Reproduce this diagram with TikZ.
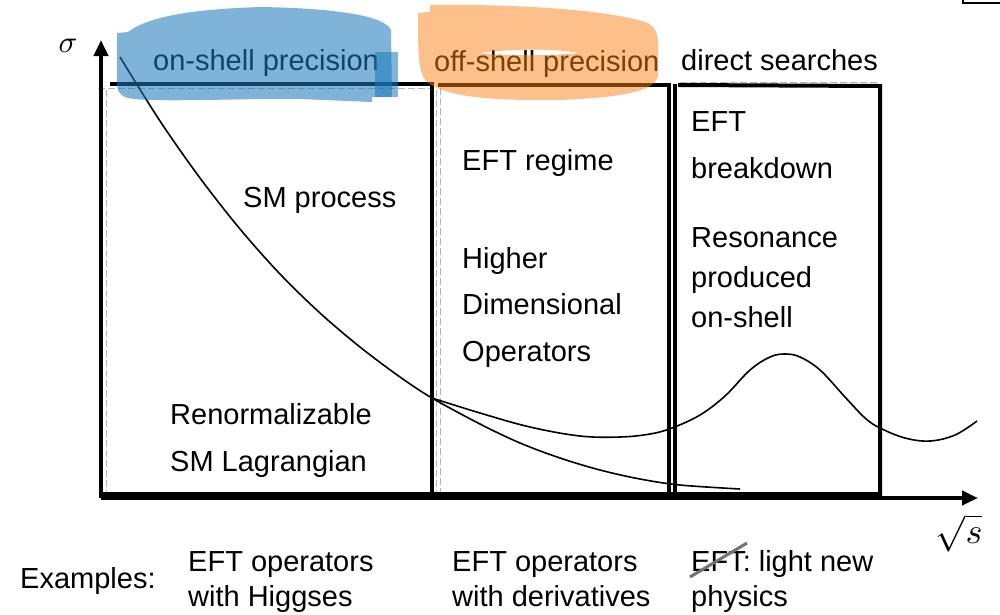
\documentclass[tikz,border=0pt]{standalone}
\usepackage{fontspec}
\setmainfont{Liberation Sans}
\usetikzlibrary{arrows.meta}
\definecolor{hlblue}{RGB}{27,120,186}
\definecolor{hlorange}{RGB}{251,129,21}
\definecolor{strikegray}{RGB}{115,115,115}
\begin{document}
\begin{tikzpicture}[x=1pt,y=-1pt,
  lbl/.style={anchor=base west, inner sep=0pt, font=\fontsize{29}{34}\selectfont},
  mathlbl/.style={inner sep=0pt},
  boxline/.style={line width=4pt, line join=miter, line cap=rect},
  curveline/.style={line width=1.6pt, line join=round},
  faintline/.style={line width=0.8pt, black!30, dash pattern=on 7pt off 3pt},
  axisline/.style={line width=4pt, -{Triangle[length=16pt,width=14pt]}}]
\useasboundingbox (0,0) rectangle (1000,614);

% corner fragment at top right
\draw[line width=2pt] (963,0) -- (963,3) -- (1000,3);

% regime boxes
\draw[boxline] (112,84) -- (432,84) -- (432,494);
\draw[boxline] (440,85) -- (669,85) -- (669,494);
\draw[boxline, line width=3.5pt] (675,494) -- (675,86);
\draw[boxline] (680,85) -- (880,86) -- (880,494);
\draw[boxline] (101,494) -- (880,494);
% faint sketch strokes
\draw[faintline] (98,88) -- (430,88);
\draw[faintline] (106,90) -- (106,492);
\draw[faintline] (440,88) -- (440,492);
\draw[faintline] (436,90) -- (436,492);
\draw[faintline] (680,82) -- (878,82);

% axes
\coordinate (O) at (101,498);
\coordinate (ytip) at (101,40);
\coordinate (xtip) at (978,498);
\draw[axisline] (O) -- (ytip);
\draw[axisline] (O) -- (xtip);
\node[mathlbl, scale=3.1] (sigma) at (68,46) {$\sigma$};
\node[mathlbl, scale=3.6] (sqrts) at (959,533) {$\sqrt{s}$};

% SM process curve
\draw[curveline] plot[smooth, tension=0.55] coordinates {(120,57) (160,121) (200,178) (240,229) (280,274) (320,313) (360,347) (400,377) (432,398) (480,424) (520,443) (560,458) (600,470) (640,479) (680,485) (740,489)};
% new physics curve with resonance
\draw[curveline] plot[smooth, tension=0.6] coordinates {(432,398) (480,413) (530,427) (580,436) (620,437) (650,434) (672,428) (700,415) (725,396) (750,370) (770,357) (785,354) (800,357) (820,370) (845,397) (865,418) (880,428) (905,438) (930,441) (955,435) (977,421)};

% labels
\node[lbl] (onshell) at (153,70) {on-shell precision};
\node[lbl] (offshell) at (434,71) {off-shell precision};
\node[lbl] (direct) at (681,70) {direct searches};
\node[lbl] (smproc) at (243,207) {SM process};
\node[lbl] (renorm1) at (170,424) {Renormalizable};
\node[lbl] (renorm2) at (170,471) {SM Lagrangian};
\node[lbl] (eftreg) at (462,170) {EFT regime};
\node[lbl] (hdo1) at (462,268) {Higher};
\node[lbl] (hdo2) at (462,314) {Dimensional};
\node[lbl] (hdo3) at (462,361) {Operators};
\node[lbl] (eftb1) at (691,131) {EFT};
\node[lbl] (eftb2) at (691,178) {breakdown};
\node[lbl] (res1) at (691,247) {Resonance};
\node[lbl] (res2) at (691,287) {produced};
\node[lbl] (res3) at (691,327) {on-shell};
\node[lbl] (examples) at (20,588) {Examples:};
\node[lbl] (ex1a) at (188,571) {EFT operators};
\node[lbl] (ex1b) at (188,606) {with Higgses};
\node[lbl] (ex2a) at (452,571) {EFT operators};
\node[lbl] (ex2b) at (452,606) {with derivatives};
\node[lbl] (ex3a) at (691,571) {EFT: light new};
\node[lbl] (ex3b) at (691,606) {physics};

% strike through EFT
\draw[strikegray, line width=3pt] (690,577) -- (747,543);

% highlighter strokes
\fill[hlblue, fill opacity=0.56] (117,33) -- (128,32) .. controls (150,15) and (200,9) .. (260,7)
  .. controls (330,8) and (385,15) .. (391,30) -- (392,97) -- (372,97) -- (372,102)
  -- (300,99) .. controls (250,98) and (150,103) .. (128,98) .. controls (118,95) and (117,90) .. (117,80) -- cycle;
\fill[hlblue, fill opacity=0.56] (375,52) rectangle (398,97);
\fill[hlorange, fill opacity=0.5, even odd rule] (418,13) -- (430,12) -- (430,5)
  .. controls (500,4) and (600,8) .. (645,22) .. controls (660,28) and (658,40) .. (658,55)
  -- (658,75) .. controls (656,90) and (630,97) .. (560,100) .. controls (480,101) and (440,95) .. (425,80)
  .. controls (418,70) and (418,50) .. (418,13) -- cycle
  (480,53) .. controls (520,48) and (560,49) .. (578,53) .. controls (550,56) and (510,56) .. (480,53) -- cycle;
\end{tikzpicture}
\end{document}
